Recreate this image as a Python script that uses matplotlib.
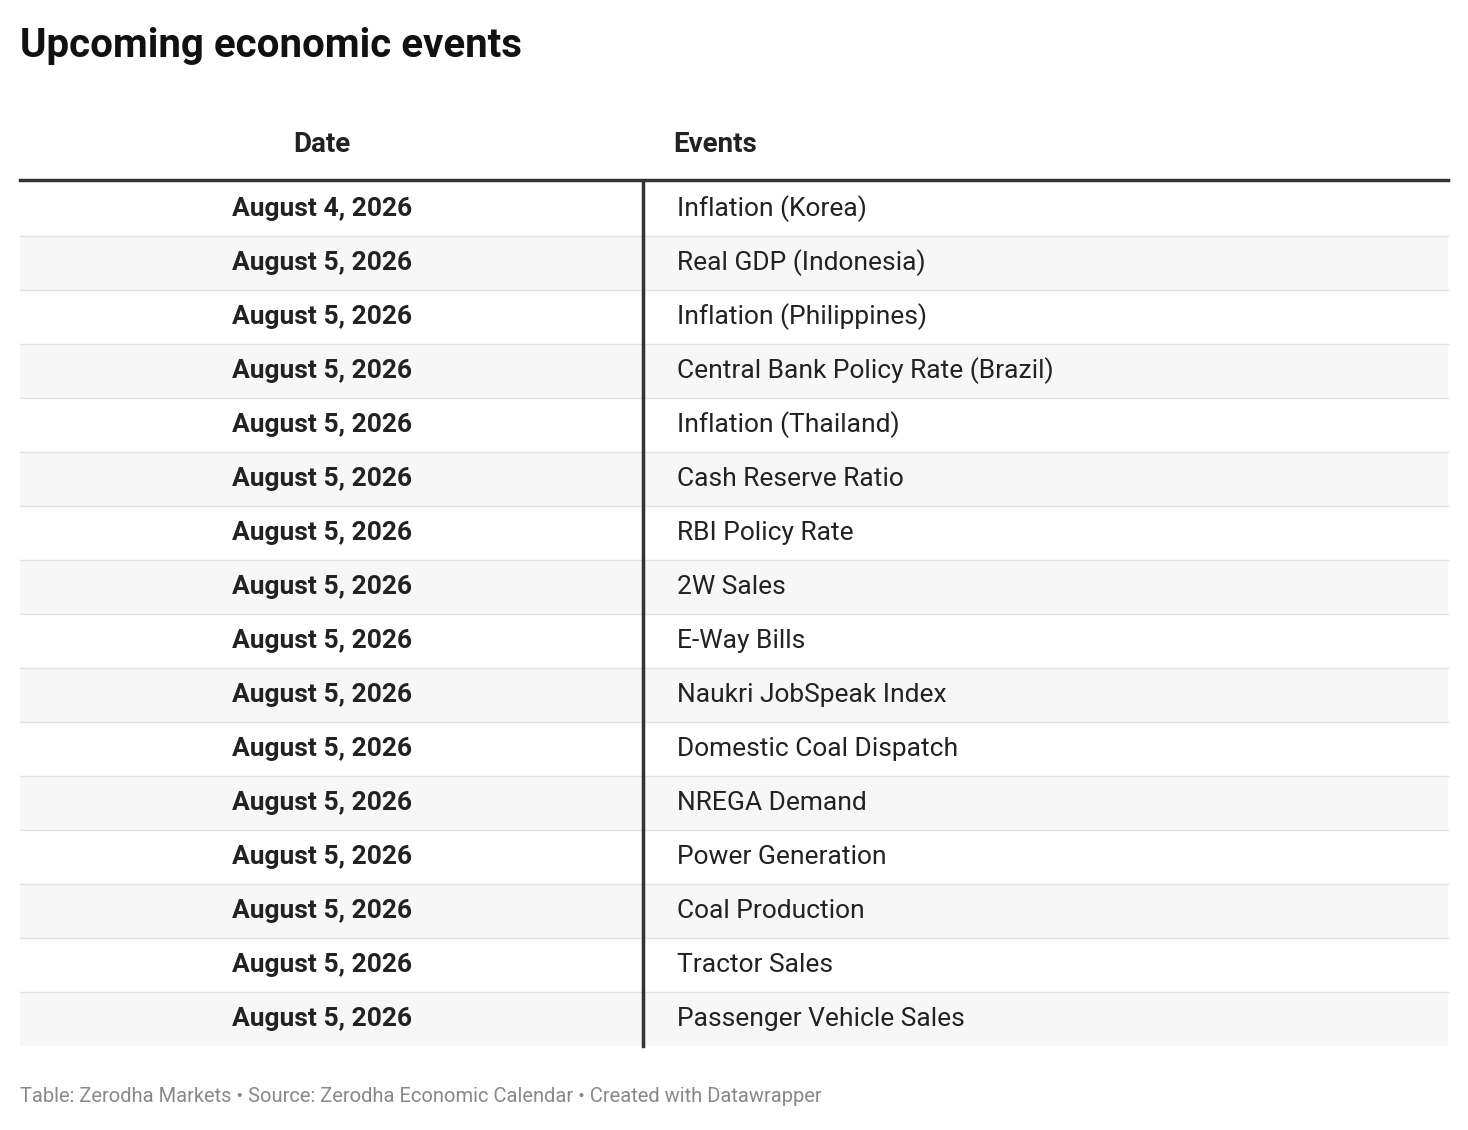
import matplotlib.pyplot as plt

plt.rcParams['font.family'] = ['Roboto', 'DejaVu Sans']

title = "Upcoming economic events"
headers = ["Date", "Events"]
dates = ["August 4, 2026"] + ["August 5, 2026"] * 15
events = [
    "Inflation (Korea)", "Real GDP (Indonesia)", "Inflation (Philippines)",
    "Central Bank Policy Rate (Brazil)", "Inflation (Thailand)", "Cash Reserve Ratio",
    "RBI Policy Rate", "2W Sales", "E-Way Bills", "Naukri JobSpeak Index",
    "Domestic Coal Dispatch", "NREGA Demand", "Power Generation",
    "Coal Production", "Tractor Sales", "Passenger Vehicle Sales",
]
footer = "Table: Zerodha Markets • Source: Zerodha Economic Calendar • Created with Datawrapper"

W, H = 1468, 1130
fig = plt.figure(figsize=(W / 100, H / 100), dpi=100)
ax = fig.add_axes([0, 0, 1, 1])
ax.set_xlim(0, W)
ax.set_ylim(H, 0)
ax.axis('off')

ax.text(20, 46, title, fontsize=29, fontweight='bold', va='center', ha='left', color='#111111')
ax.text(322, 144, headers[0], fontsize=20, fontweight='bold', va='center', ha='center', color='#222222')
ax.text(673, 144, headers[1], fontsize=20, fontweight='bold', va='center', ha='left', color='#222222')

top, rh = 182, 54
for i, (d, e) in enumerate(zip(dates, events)):
    y0 = top + i * rh
    if i % 2 == 1:
        ax.add_patch(plt.Rectangle((20, y0), 1428, rh, color='#f7f7f7', lw=0, zorder=0))
    if i > 0:
        ax.plot([20, 1448], [y0, y0], color='#e2e2e2', lw=1, zorder=1)
    yc = y0 + rh / 2
    ax.text(322, yc, d, fontsize=19, fontweight='bold', va='center', ha='center', color='#222222')
    ax.text(677, yc, e, fontsize=19, va='center', ha='left', color='#222222')

ax.plot([20, 1448], [180, 180], color='#333333', lw=2.5, zorder=2)
ax.plot([643, 643], [182, top + rh * len(dates)], color='#333333', lw=2.5, zorder=2)

ax.text(20, 1097, footer, fontsize=14.5, va='center', ha='left', color='#888888')

fig.savefig('out.png', dpi=100, facecolor='white')
